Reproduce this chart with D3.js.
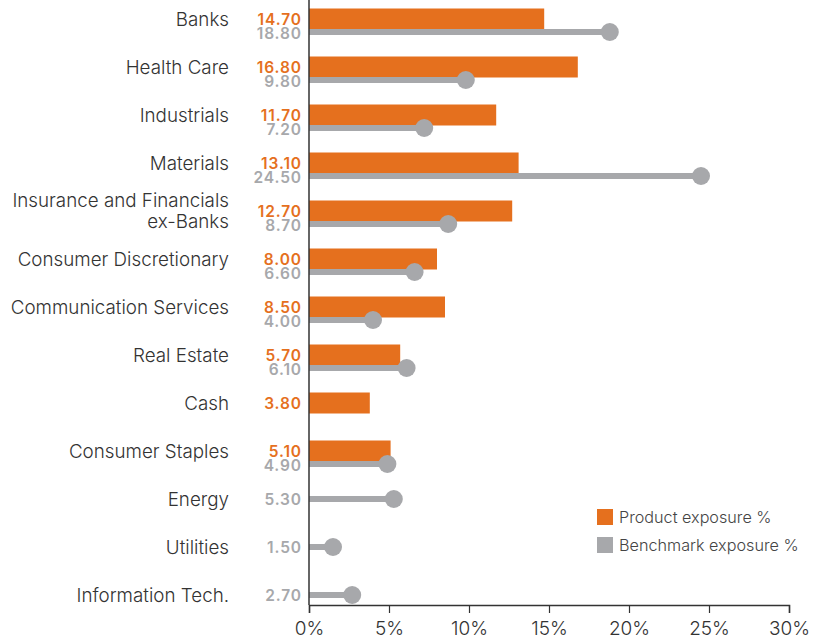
<!DOCTYPE html>
<html>
<head>
<meta charset="utf-8">
<script src="https://cdn.jsdelivr.net/npm/d3@7"></script>
<style>
  body { margin: 0; background: #fff; }
  svg text { font-family: Inter, "Open Sans", sans-serif; }
</style>
</head>
<body>
<div id="chart"></div>
<script>
// sector exposure: product bars vs benchmark lollipops
const sectors = ['Banks', 'Health Care', 'Industrials', 'Materials', 'Insurance and Financials\nex-Banks',
  'Consumer Discretionary', 'Communication Services', 'Real Estate', 'Cash', 'Consumer Staples',
  'Energy', 'Utilities', 'Information Tech.'];
const product = [14.7, 16.8, 11.7, 13.1, 12.7, 8.0, 8.5, 5.7, 3.8, 5.1, null, null, null];
const benchmark = [18.8, 9.8, 7.2, 24.5, 8.7, 6.6, 4.0, 6.1, null, 4.9, 5.3, 1.5, 2.7];
const xTicks = [0, 5, 10, 15, 20, 25, 30];

const orange = '#e5701e';
const grey = '#a7a8ab';

const width = 825, height = 644;
const svg = d3.select('#chart').append('svg')
  .attr('width', width)
  .attr('height', height);

const x = d3.scaleLinear().domain([0, 30]).range([309, 789]);
const y = d3.scalePoint().domain(d3.range(sectors.length)).range([19, 595]);

const rows = sectors.map((name, i) => ({ name, i, p: product[i], b: benchmark[i] }));

// benchmark sits under the bar when both exist
const bOff = d => d.p == null ? 0 : 13;

// x axis
const axis = svg.append('g')
  .attr('transform', 'translate(0,605)')
  .call(d3.axisBottom(x).tickValues(xTicks).tickSize(8).tickPadding(9).tickFormat(d => d + '%'));
axis.select('.domain').attr('stroke', '#333').attr('stroke-width', 1.5);
axis.selectAll('.tick line').attr('stroke', '#333').attr('stroke-width', 1.2);
axis.selectAll('.tick text')
  .attr('fill', '#333')
  .style('font-size', '19px')
  .style('font-weight', 300);

// product bars
svg.selectAll('rect.bar')
  .data(rows.filter(d => d.p != null))
  .join('rect')
    .attr('class', 'bar')
    .attr('x', x(0))
    .attr('y', d => y(d.i) - 10.5)
    .attr('width', d => x(d.p) - x(0))
    .attr('height', 21)
    .attr('fill', orange);

// benchmark lollipops
const bm = rows.filter(d => d.b != null);
svg.selectAll('line.stem')
  .data(bm)
  .join('line')
    .attr('class', 'stem')
    .attr('x1', x(0))
    .attr('x2', d => x(d.b))
    .attr('y1', d => y(d.i) + bOff(d))
    .attr('y2', d => y(d.i) + bOff(d))
    .attr('stroke', grey)
    .attr('stroke-width', 6);
svg.selectAll('circle.dot')
  .data(bm)
  .join('circle')
    .attr('class', 'dot')
    .attr('cx', d => x(d.b))
    .attr('cy', d => y(d.i) + bOff(d))
    .attr('r', 9)
    .attr('fill', grey);

// y axis line
svg.append('line')
  .attr('x1', x(0)).attr('x2', x(0))
  .attr('y1', 0).attr('y2', 605)
  .attr('stroke', '#333')
  .attr('stroke-width', 1.5);

// category labels
svg.selectAll('text.cat')
  .data(rows)
  .join('text')
    .attr('class', 'cat')
    .attr('x', 229)
    .attr('text-anchor', 'end')
    .attr('fill', '#333')
    .style('font-size', '18.8px')
    .style('font-weight', 300)
    .each(function (d) {
      const lines = d.name.split('\n');
      const t = d3.select(this);
      lines.forEach((l, k) => {
        t.append('tspan')
          .attr('x', 229)
          .attr('y', y(d.i) + 6.5 + (k - (lines.length - 1) / 2) * 21)
          .text(l);
      });
    });

// value labels
svg.selectAll('text.pval')
  .data(rows.filter(d => d.p != null))
  .join('text')
    .attr('class', 'pval')
    .attr('x', 302)
    .attr('y', d => y(d.i) + (d.b == null ? 5.5 : 6))
    .attr('text-anchor', 'end')
    .attr('fill', orange)
    .style('font-size', '15.5px')
    .style('font-weight', 600)
    .style('letter-spacing', '0.9px')
    .text(d => d.p.toFixed(2));
svg.selectAll('text.bval')
  .data(bm)
  .join('text')
    .attr('class', 'bval')
    .attr('x', 302)
    .attr('y', d => y(d.i) + (d.p == null ? 5.5 : 20))
    .attr('text-anchor', 'end')
    .attr('fill', grey)
    .style('font-size', '15.5px')
    .style('font-weight', 600)
    .style('letter-spacing', '0.9px')
    .text(d => d.b.toFixed(2));

// legend
const legend = [
  { label: 'Product exposure %', color: orange },
  { label: 'Benchmark exposure %', color: grey }
];
const lg = svg.selectAll('g.legend')
  .data(legend)
  .join('g')
    .attr('class', 'legend')
    .attr('transform', (d, i) => `translate(597,${509 + i * 28})`);
lg.append('rect')
  .attr('width', 16).attr('height', 16)
  .attr('fill', d => d.color);
lg.append('text')
  .attr('x', 22).attr('y', 13.5)
  .attr('fill', '#444')
  .style('font-size', '16.2px')
  .style('font-weight', 300)
  .text(d => d.label);
</script>
</body>
</html>
